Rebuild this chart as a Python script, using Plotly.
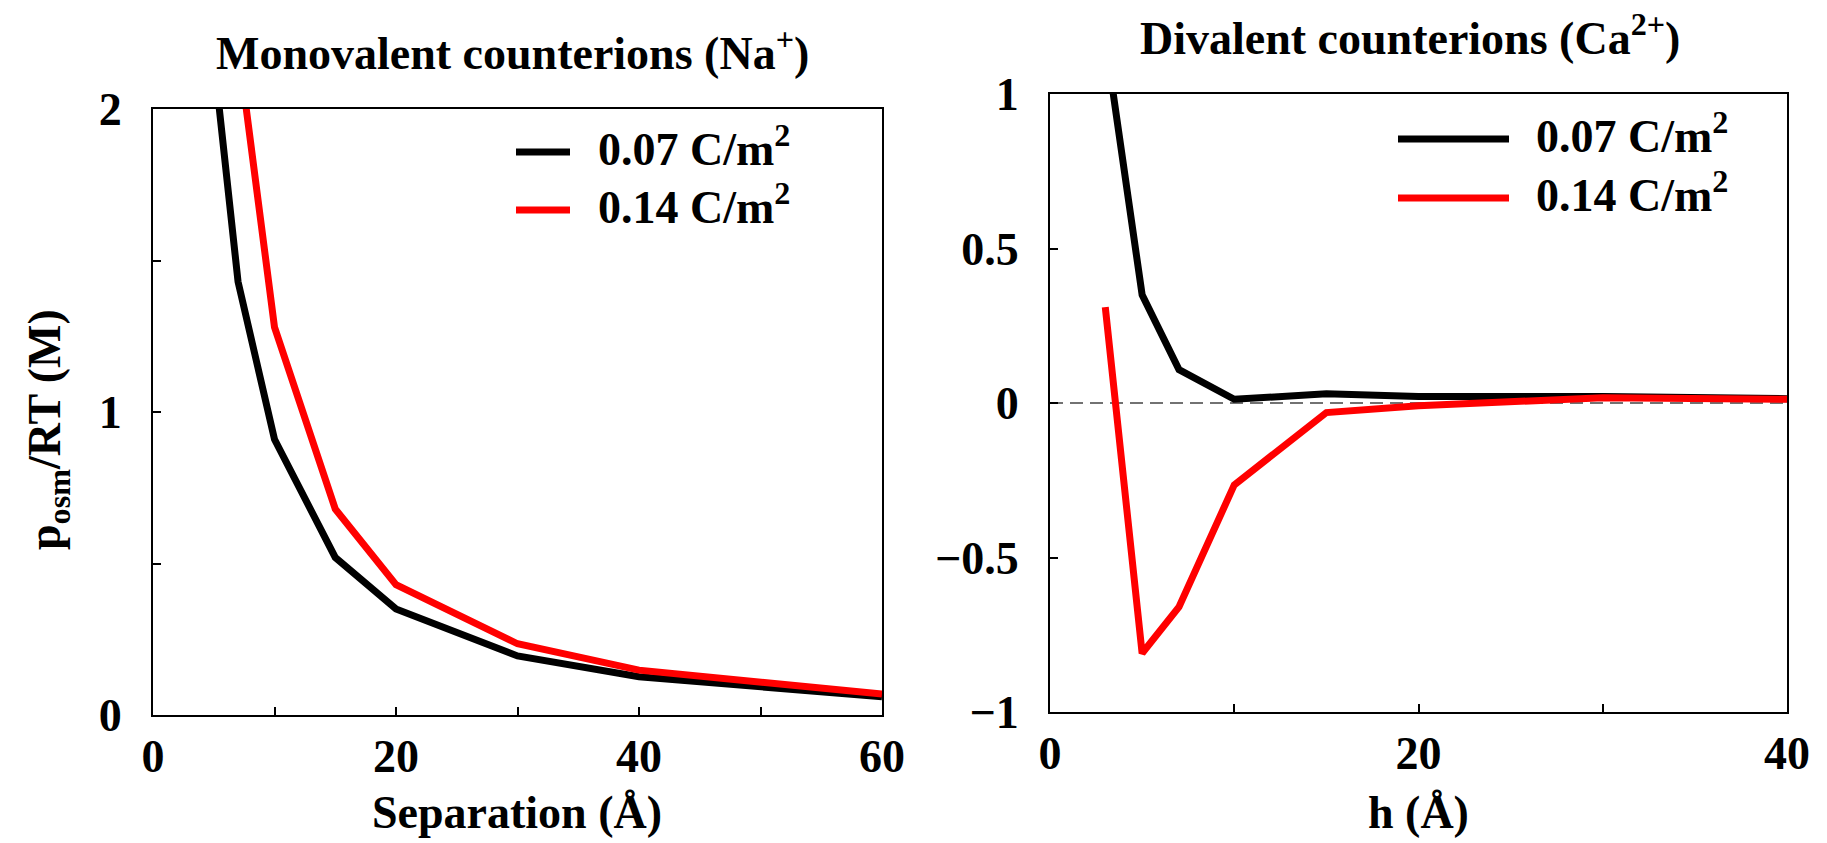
import plotly.graph_objects as go

# ---- data ----
sep_07 = [5, 7, 10, 15, 20, 30, 40, 60]
posm_07 = [2.17, 1.43, 0.91, 0.52, 0.35, 0.195, 0.126, 0.06]
sep_14 = [7, 10, 15, 20, 30, 40, 60]
posm_14 = [2.21, 1.28, 0.68, 0.43, 0.235, 0.148, 0.069]

h_07 = [3, 5, 7, 10, 15, 20, 30, 40]
div_07 = [1.18, 0.35, 0.108, 0.012, 0.03, 0.021, 0.021, 0.014]
h_14 = [3, 5, 7, 10, 15, 20, 30, 40]
div_14 = [0.31, -0.81, -0.66, -0.265, -0.031, -0.009, 0.017, 0.012]

series_names = ["0.07 C/m<sup>2</sup>", "0.14 C/m<sup>2</sup>"]
series_colors = ["#000000", "#ff0000"]

left_xticks = [0, 10, 20, 30, 40, 50, 60]
left_xlabels = ["0", "", "20", "", "40", "", "60"]
left_yticks = [0, 0.5, 1, 1.5, 2]
left_ylabels = ["0", "", "1", "", "2"]
right_xticks = [0, 10, 20, 30, 40]
right_xlabels = ["0", "", "20", "", "40"]
right_yticks = [-1, -0.5, 0, 0.5, 1]
right_ylabels = ["\u22121", "\u22120.5", "0", "0.5", "1"]

FONT = "Liberation Serif"
FS = 46
LW = 7
W, H = 1827, 843

fig = go.Figure()

# zero reference line on right panel
fig.add_shape(type="line", xref="x2 domain", yref="y2", x0=0, x1=1, y0=0, y1=0,
              line=dict(color="#444444", width=1.5, dash="13px,7px"), layer="below")

fig.add_trace(go.Scatter(x=sep_07, y=posm_07, mode="lines", xaxis="x", yaxis="y",
                         line=dict(color=series_colors[0], width=LW), showlegend=False))
fig.add_trace(go.Scatter(x=sep_14, y=posm_14, mode="lines", xaxis="x", yaxis="y",
                         line=dict(color=series_colors[1], width=LW), showlegend=False))
fig.add_trace(go.Scatter(x=h_07, y=div_07, mode="lines", xaxis="x2", yaxis="y2",
                         line=dict(color=series_colors[0], width=LW), showlegend=False))
fig.add_trace(go.Scatter(x=h_14, y=div_14, mode="lines", xaxis="x2", yaxis="y2",
                         line=dict(color=series_colors[1], width=LW), showlegend=False))

axis_common = dict(showline=True, linecolor="black", linewidth=2, mirror=True,
                   ticks="inside", ticklen=8, tickwidth=2, tickcolor="black",
                   showgrid=False, zeroline=False, automargin=False,
                   tickfont=dict(family=FONT, size=FS, color="black", weight="bold"))

fig.update_layout(
    width=W, height=H,
    margin=dict(l=0, r=0, t=0, b=0),
    paper_bgcolor="white", plot_bgcolor="white",
    showlegend=False,
    xaxis=dict(domain=[153 / W, 882 / W], anchor="y", range=[0, 60],
               tickmode="array", tickvals=left_xticks, ticktext=left_xlabels,
               ticklabelstandoff=0, **axis_common),
    yaxis=dict(domain=[1 - 715 / H, 1 - 109 / H], anchor="x", range=[0, 2],
               tickmode="array", tickvals=left_yticks, ticktext=left_ylabels,
               ticklabelstandoff=20, **axis_common),
    xaxis2=dict(domain=[1050 / W, 1787 / W], anchor="y2", range=[0, 40],
                tickmode="array", tickvals=right_xticks, ticktext=right_xlabels,
                ticklabelstandoff=0, **axis_common),
    yaxis2=dict(domain=[1 - 712 / H, 1 - 94 / H], anchor="x2", range=[-1, 1],
                tickmode="array", tickvals=right_yticks, ticktext=right_ylabels,
                ticklabelstandoff=20, **axis_common),
)

def px(x):
    return x / W

def py(y):
    return 1 - y / H

ann_font = dict(family=FONT, size=FS, color="black", weight="bold")
annotations = [
    dict(text="Monovalent counterions (Na<sup>+</sup>)", x=px(512), y=py(50),
         xref="paper", yref="paper", xanchor="center", yanchor="middle", showarrow=False, font=ann_font),
    dict(text="Divalent counterions (Ca<sup>2+</sup>)", x=px(1410), y=py(35),
         xref="paper", yref="paper", xanchor="center", yanchor="middle", showarrow=False, font=ann_font),
    dict(text="Separation (Å)", x=px(517), y=py(812),
         xref="paper", yref="paper", xanchor="center", yanchor="middle", showarrow=False, font=ann_font),
    dict(text="h (Å)", x=px(1418), y=py(812),
         xref="paper", yref="paper", xanchor="center", yanchor="middle", showarrow=False, font=ann_font),
    dict(text="p<sub>osm</sub>/RT (M)", x=px(48), y=py(430), textangle=-90,
         xref="paper", yref="paper", xanchor="center", yanchor="middle", showarrow=False, font=ann_font),
]

# custom legends
legend_specs = [
    (516, 570, 596, [152, 210]),
    (1398, 1509, 1534, [139, 198]),
]
for (lx0, lx1, tx, rows) in legend_specs:
    for i, yy in enumerate(rows):
        fig.add_shape(type="line", xref="paper", yref="paper",
                      x0=px(lx0), x1=px(lx1), y0=py(yy), y1=py(yy),
                      line=dict(color=series_colors[i], width=LW))
        annotations.append(dict(text=series_names[i], x=px(tx), y=py(yy - 6),
                                xref="paper", yref="paper", xanchor="left", yanchor="middle",
                                showarrow=False, font=ann_font))

fig.update_layout(annotations=annotations)
fig.write_html("out.html")
